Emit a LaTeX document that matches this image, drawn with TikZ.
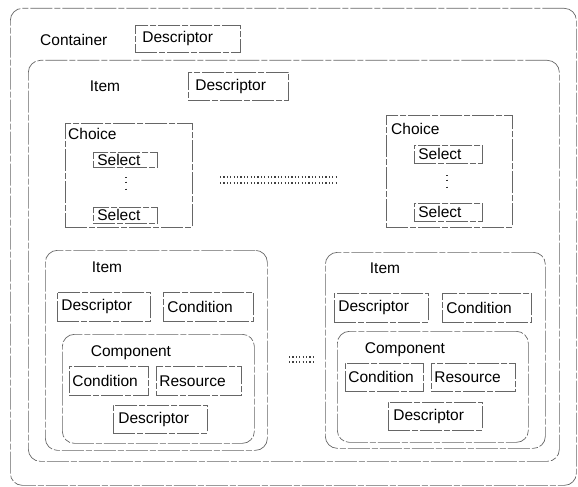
\documentclass[tikz,border=0pt]{standalone}
\usepackage{fontspec}
\setmainfont{Liberation Sans}
\begin{document}
\begin{tikzpicture}[x=1pt,y=-1pt,
  frame/.style={draw=black!60, line width=0.7pt, dash pattern=on 22pt off 2pt on 6pt off 2pt},
  cont/.style={frame, rounded corners=12pt, anchor=north west, inner sep=0pt},
  sq/.style={frame, anchor=north west, inner sep=0pt},
  box/.style={frame, anchor=north west, inner xsep=7pt, inner ysep=0pt, align=left, font=\fontsize{15.5}{17}\selectfont},
  lbl/.style={font=\fontsize{15.5}{17}\selectfont, inner sep=0pt},
  vdotline/.style={draw=black!80, line width=1.2pt, dash pattern=on 1.2pt off 3.3pt on 1.2pt off 6pt},
  dotrow/.style={draw=black!75, line width=1.1pt, dash pattern=on 1.1pt off 2.3pt},
]
\useasboundingbox (0,0) rectangle (578,487);

% containers
\node[cont, minimum width=566pt, minimum height=477pt] (outer) at (10,8) {};
\node[cont, minimum width=531pt, minimum height=401pt] (items) at (28,60) {};

\node[lbl, anchor=west] (containerlbl) at (40,40) {Container};
\node[box, text width=91pt, minimum height=27pt] (desc0) at (135,25) {Descriptor};

\node[lbl] (itemtop) at (105,86) {Item};
\node[box, text width=86pt, minimum height=28pt] (desc1) at (188,72) {Descriptor};

% choices
\node[sq, minimum width=127pt, minimum height=104pt] (choiceL) at (65,123) {};
\node[lbl, anchor=west] (choiceLlbl) at (68,134) {Choice};
\node[box, text width=56pt, inner xsep=4pt, minimum height=15pt] (selL1) at (93,152) {Select};
\node[box, text width=56pt, inner xsep=4pt, minimum height=16pt] (selL2) at (93,207) {Select};
\coordinate (vdL1) at (126,177); \coordinate (vdL2) at (126,193);
\draw[vdotline] (vdL1) -- (vdL2);

\node[sq, minimum width=126pt, minimum height=112pt] (choiceR) at (386,115) {};
\node[lbl, anchor=west] (choiceRlbl) at (391,129) {Choice};
\node[box, text width=60pt, inner xsep=4pt, minimum height=18pt] (selR1) at (414,145) {Select};
\node[box, text width=60pt, inner xsep=4pt, minimum height=18pt] (selR2) at (414,203) {Select};
\coordinate (vdR1) at (447,175); \coordinate (vdR2) at (447,191);
\draw[vdotline] (vdR1) -- (vdR2);

\coordinate (sepA1) at (220,177); \coordinate (sepA2) at (337,177);
\coordinate (sepB1) at (220,183); \coordinate (sepB2) at (337,183);
\draw[dotrow] (sepA1) -- (sepA2);
\draw[dotrow] (sepB1) -- (sepB2);

% left item
\node[cont, minimum width=222pt, minimum height=200pt] (itemL) at (45,250) {};
\node[lbl] (itemLlbl) at (107,267) {Item};
\node[box, text width=85pt, inner xsep=4pt, minimum height=29pt] (descL) at (57,292) {Descriptor};
\node[box, text width=82pt, inner xsep=4pt, minimum height=29pt] (condL) at (163,292) {Condition};
\node[cont, minimum width=192pt, minimum height=109pt] (compL) at (62,334) {};
\node[lbl] (compLlbl) at (131,353) {Component};
\node[box, text width=73pt, inner xsep=3pt, minimum height=29pt] (ccondL) at (69,366) {Condition};
\node[box, text width=79pt, inner xsep=3pt, minimum height=29pt] (resL) at (156,366) {Resource};
\node[box, text width=84pt, inner xsep=5pt, minimum height=28pt] (cdescL) at (113,405) {Descriptor};

% middle dots
\coordinate (mdA1) at (289,357); \coordinate (mdA2) at (316,357);
\coordinate (mdB1) at (289,362); \coordinate (mdB2) at (316,362);
\draw[dotrow] (mdA1) -- (mdA2);
\draw[dotrow] (mdB1) -- (mdB2);

% right item
\node[cont, minimum width=220pt, minimum height=196pt] (itemR) at (325,252) {};
\node[lbl] (itemRlbl) at (385,268) {Item};
\node[box, text width=86pt, inner xsep=4pt, minimum height=29pt] (descR) at (334,293) {Descriptor};
\node[box, text width=81pt, inner xsep=4pt, minimum height=29pt] (condR) at (442,293) {Condition};
\node[cont, minimum width=191pt, minimum height=111pt] (compR) at (337,331) {};
\node[lbl] (compRlbl) at (405,350) {Component};
\node[box, text width=72pt, inner xsep=3pt, minimum height=28pt] (ccondR) at (345,363) {Condition};
\node[box, text width=78pt, inner xsep=3pt, minimum height=28pt] (resR) at (431,363) {Resource};
\node[box, text width=84pt, inner xsep=5pt, minimum height=28pt] (cdescR) at (388,402) {Descriptor};
\end{tikzpicture}
\end{document}
